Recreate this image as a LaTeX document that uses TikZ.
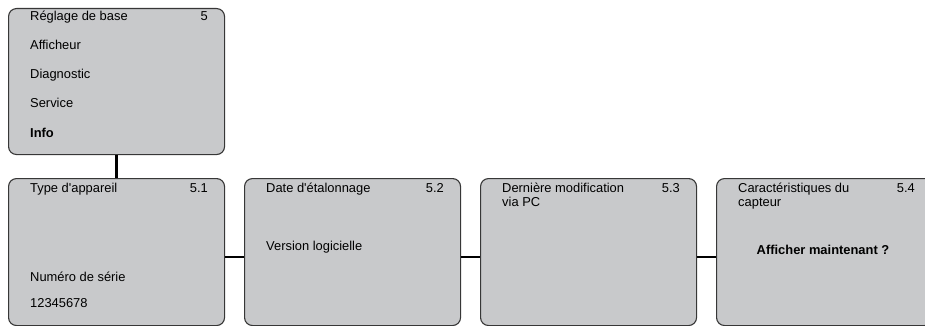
\documentclass[tikz,border=0pt]{standalone}
\usepackage{fontspec}
\setmainfont{Liberation Sans}[Ligatures=TeXOff]
\usetikzlibrary{calc}

\definecolor{boxgray}{RGB}{200,201,203}
\definecolor{edgegray}{RGB}{55,55,55}

\tikzset{
  menubox/.style={draw=edgegray,fill=boxgray,line width=1.1pt,rounded corners=8pt,
    minimum width=216pt,minimum height=147pt,inner sep=0pt,anchor=north west},
  entry/.style={anchor=base west,inner sep=0pt,font=\fontsize{12.9}{15}\selectfont},
  menunum/.style={anchor=base east,inner sep=0pt,font=\fontsize{12.9}{15}\selectfont},
  link/.style={line width=2.4pt,black}
}

\begin{document}
\begin{tikzpicture}[x=1pt,y=-1pt]

\useasboundingbox (0,0) rectangle (925,326);
\begin{scope}
\clip (0,0) rectangle (925,326);

% menu and sub-menus
\node[menubox,minimum height=146pt] (menu) at (8,8) {};
\node[menubox] (info1) at (8,178) {};
\node[menubox] (info2) at (244,178) {};
\node[menubox] (info3) at (480,178) {};
\node[menubox] (info4) at (716,178) {};

% connectors
\draw[link] (menu.south) -- (menu.south |- info1.north);
\draw[link] ([yshift=-5pt]info1.east) -- ([yshift=-5pt]info2.west);
\draw[link] ([yshift=-5pt]info2.east) -- ([yshift=-5pt]info3.west);
\draw[link] ([yshift=-5pt]info3.east) -- ([yshift=-5pt]info4.west);

% main menu
\node[entry] (m1) at ($(menu.north west)+(22,13)$) {Réglage de base};
\node[menunum] (mn) at ($(menu.north east)+(-17,13)$) {5};
\node[entry] (m2) at ($(menu.north west)+(22,42)$) {Afficheur};
\node[entry] (m3) at ($(menu.north west)+(22,71)$) {Diagnostic};
\node[entry] (m4) at ($(menu.north west)+(22,100)$) {Service};
\node[entry] (m5) at ($(menu.north west)+(22,129)$) {\bfseries Info};

% 5.1
\node[entry] (a1) at ($(info1.north west)+(22,14)$) {Type d'appareil};
\node[menunum] (an) at ($(info1.north east)+(-17,14)$) {5.1};
\node[entry] (a2) at ($(info1.north west)+(22,103)$) {Numéro de série};
\node[entry] (a3) at ($(info1.north west)+(22,129)$) {12345678};

% 5.2
\node[entry] (b1) at ($(info2.north west)+(22,14)$) {Date d'étalonnage};
\node[menunum] (bn) at ($(info2.north east)+(-17,14)$) {5.2};
\node[entry] (b2) at ($(info2.north west)+(22,72)$) {Version logicielle};

% 5.3
\node[entry] (c1) at ($(info3.north west)+(22,14)$) {Dernière modification};
\node[entry] (c2) at ($(info3.north west)+(22,28)$) {via PC};
\node[menunum] (cn) at ($(info3.north east)+(-17,14)$) {5.3};

% 5.4
\node[entry] (d1) at ($(info4.north west)+(22,14)$) {Caractéristiques du};
\node[entry] (d2) at ($(info4.north west)+(22,28)$) {capteur};
\node[menunum] (dn) at ($(info4.north west)+(199,14)$) {5.4};
\node[entry,anchor=base] (d3) at ($(info4.north west)+(107,76)$) {\bfseries Afficher maintenant ?};

\end{scope}
\end{tikzpicture}
\end{document}
